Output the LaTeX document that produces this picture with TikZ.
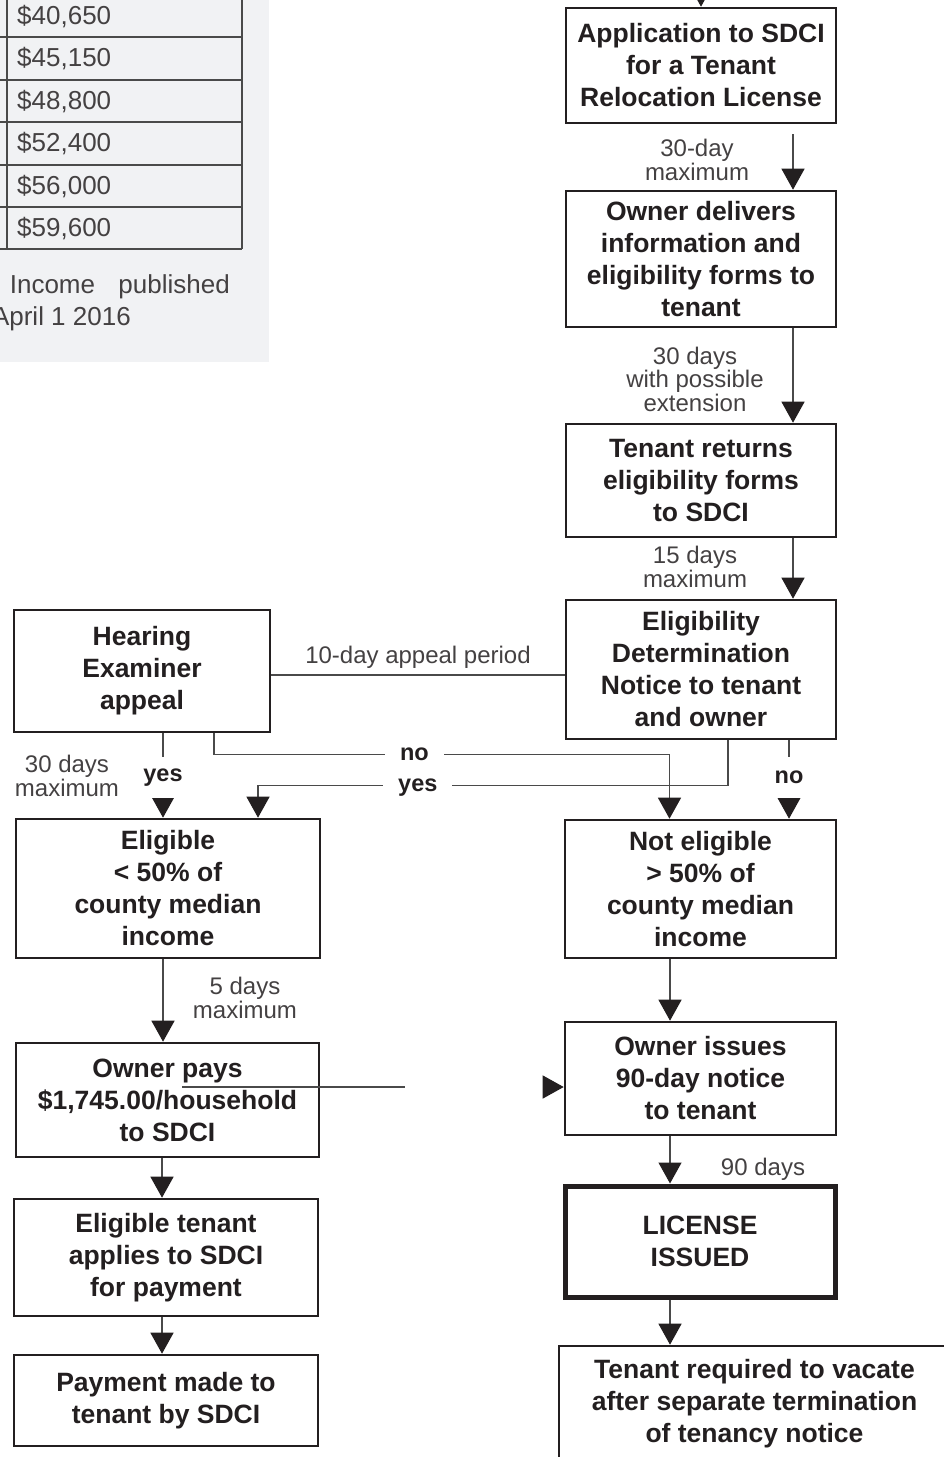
\documentclass[tikz,border=0pt]{standalone}
\usepackage{fontspec}
\setmainfont{Liberation Sans}
\usetikzlibrary{arrows.meta,calc}
\definecolor{ink}{HTML}{231F20}
\definecolor{wire}{HTML}{4A4A4A}
\definecolor{panel}{HTML}{F1F2F4}
\tikzset{
  box/.style={draw=ink, line width=2.6pt, fill=white, align=center, text=ink,
    font=\fontsize{26.5}{32}\selectfont\bfseries, inner sep=0pt},
  thickbox/.style={box, line width=5pt},
  conn/.style={draw=wire, line width=1.3pt},
  arr/.style={conn, -{Triangle[width=23pt,length=21pt,color=ink]}},
  lab/.style={text=ink!85, font=\fontsize{24}{23.5}\selectfont, align=center, inner sep=0pt},
  ynv/.style={text=ink, font=\fontsize{23.5}{24}\selectfont\bfseries, fill=white,
    inner xsep=6pt, inner ysep=0pt, minimum height=41pt},
  ynh/.style={text=ink, font=\fontsize{23.5}{24}\selectfont\bfseries, fill=white,
    inner xsep=15pt, inner ysep=2pt},
  tbl/.style={draw=wire, line width=1.5pt},
  num/.style={text=ink!85, font=\fontsize{26}{30}\selectfont, inner sep=0pt},
}
\begin{document}
\begin{tikzpicture}[x=1pt,y=-1pt]
\useasboundingbox (0,0) rectangle (944,1457);
\clip (0,0) rectangle (944,1457);

% income panel
\fill[panel] (-5,-5) rectangle (269,362);
\foreach \yy in {37,80,122,165,207,249} \draw[tbl] (-5,\yy) -- (242,\yy);
\draw[tbl] (7,-5) -- (7,249);
\draw[tbl] (242,-5) -- (242,249);
\node[num, anchor=west] (n1) at (17,17) {\$40,650};
\node[num, anchor=west] (n2) at (17,59) {\$45,150};
\node[num, anchor=west] (n3) at (17,102) {\$48,800};
\node[num, anchor=west] (n4) at (17,144) {\$52,400};
\node[num, anchor=west] (n5) at (17,187) {\$56,000};
\node[num, anchor=west] (n6) at (17,229) {\$59,600};
\node[num, anchor=east] (inc) at (230,287) {Income\hspace{0.9em}published};
\node[num, anchor=east] (apr) at (131,319) {April 1 2016};

% boxes right column
\node[box, minimum width=270pt, minimum height=115pt] (app) at (701,65.5) {Application to SDCI\\for a Tenant\\Relocation License};
\node[box, minimum width=270pt, minimum height=136pt] (deliv) at (701,259) {Owner delivers\\information and\\eligibility forms to\\tenant};
\node[box, minimum width=270pt, minimum height=113pt] (ret) at (701,480.5) {Tenant returns\\eligibility forms\\to SDCI};
\node[box, minimum width=270pt, minimum height=139pt] (det) at (701,669.5) {Eligibility\\Determination\\Notice to tenant\\and owner};
\node[box, minimum width=271pt, minimum height=138pt] (noteli) at (700.5,889) {Not eligible\\> 50\% of\\county median\\income};
\node[box, minimum width=271pt, minimum height=113pt] (issue) at (700.5,1078.5) {Owner issues\\90-day notice\\to tenant};
\node[thickbox, minimum width=270pt, minimum height=111pt] (lic) at (700,1241.5) {LICENSE\\ISSUED};
\node[box, minimum width=391pt, minimum height=115pt] (vacate) at (754.5,1403.5) {Tenant required to vacate\\after separate termination\\of tenancy notice};

% boxes left column
\node[box, minimum width=256pt, minimum height=122pt] (hear) at (142,671) {Hearing\\Examiner\\appeal};
\node[box, minimum width=304pt, minimum height=139pt] (elig) at (168,888.5) {Eligible\\< 50\% of\\county median\\income};
\node[box, minimum width=303pt, minimum height=114pt] (pays) at (167.5,1100) {Owner pays\\\$1,745.00/household\\to SDCI};
\node[box, minimum width=304pt, minimum height=117pt] (apply) at (166,1257.5) {Eligible tenant\\applies to SDCI\\for payment};
\node[box, minimum width=304pt, minimum height=91pt] (paym) at (166,1400.5) {Payment made to\\tenant by SDCI};

% right column connectors
\coordinate (topin) at (701,-40);
\draw[arr] (topin) -- (app.north);
\draw[arr] ([xshift=92pt,yshift=-10pt]app.south) -- ([xshift=92pt]deliv.north);
\node[lab] (l30) at (697,160) {30-day\\maximum};
\draw[arr] ([xshift=92pt]deliv.south) -- ([xshift=92pt]ret.north);
\node[lab] (l30b) at (695,379) {30 days\\with possible\\extension};
\draw[arr] ([xshift=92pt]ret.south) -- ([xshift=92pt]det.north);
\node[lab] (l15) at (695,567) {15 days\\maximum};

% appeal line
\draw[conn] ([yshift=-4pt]hear.east) -- ([yshift=-4pt]hear.east -| det.west);
\node[lab] (l10) at (418,657) {10-day appeal period};

% decisions
\draw[arr] ([xshift=21pt]hear.south) -- ([xshift=21pt]hear.south |- elig.north)
  node[ynv, pos=0.52] {yes};
\node[lab] (l30c) at (67,776) {30 days\\maximum};
\draw[arr] ([xshift=72pt]hear.south) -- ++(0,21)
  -| node[ynh, pos=0.22] {no} ([xshift=-31pt]noteli.north);
\draw[arr] ([xshift=27pt]det.south) -- ++(0,45)
  -| node[ynh, pos=0.33, yshift=-2pt] {yes} ([xshift=90pt]elig.north);
\draw[arr] ([xshift=88pt]det.south) -- ([xshift=88pt]det.south |- noteli.north)
  node[ynv, pos=0.47] {no};

% lower right
\draw[arr] ([xshift=-30.5pt]noteli.south) -- ([xshift=-30.5pt]issue.north);
\draw[arr] ([xshift=-30.5pt]issue.south) -- ([xshift=-30pt]lic.north);
\node[lab] (l90) at (763,1169) {90 days};
\draw[arr] ([xshift=-30pt]lic.south) -- ([xshift=-84.5pt]vacate.north);

% lower left
\draw[arr] ([xshift=-5pt]elig.south) -- ([xshift=-5pt]elig.south |- pays.north);
\node[lab] (l5) at (245,998) {5 days\\maximum};
\draw[arr] ([xshift=-5.5pt]pays.south) -- ([xshift=-4pt]apply.north);
\draw[arr] ([xshift=-4pt]apply.south) -- ([xshift=-4pt]paym.north);

% stray segment and arrowhead
\coordinate (s1) at (182,1087);
\coordinate (s2) at (405,1087);
\draw[conn] (s1) -- (s2);
\draw[arr] ([xshift=-20pt,yshift=-8.5pt]issue.west) -- ([yshift=-8.5pt]issue.west);
\end{tikzpicture}
\end{document}
